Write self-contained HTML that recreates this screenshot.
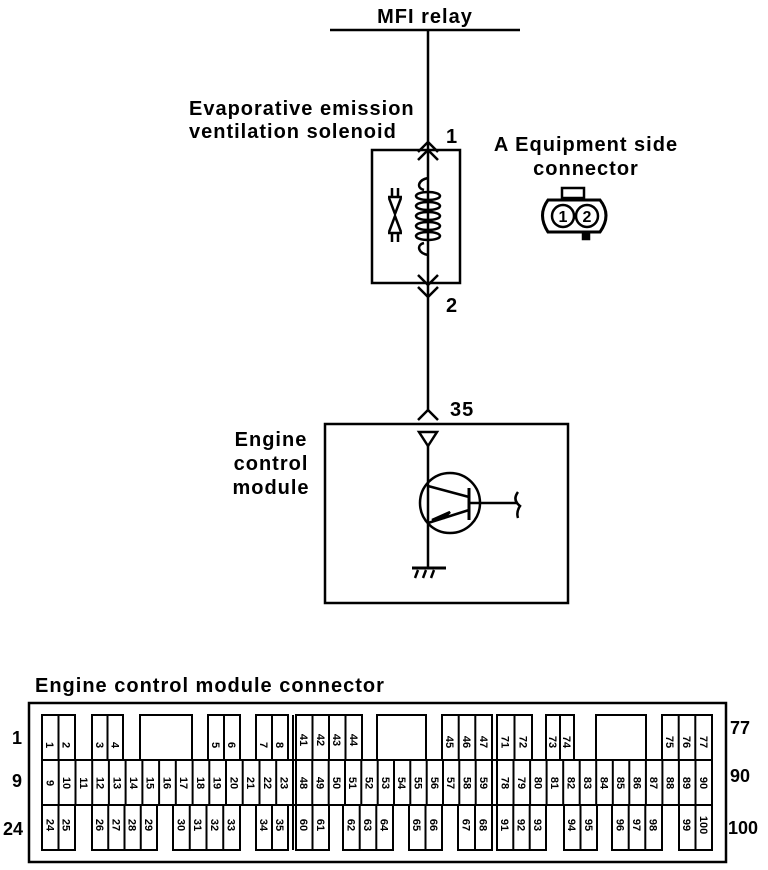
<!DOCTYPE html>
<html><head><meta charset="utf-8"><style>
html,body{margin:0;padding:0;background:#fff;}
svg{display:block;}
text{font-family:"Liberation Sans",sans-serif;fill:#000;}
.n{font-size:11px;font-weight:bold;}
.L{font-size:20px;font-weight:bold;letter-spacing:1px;}
</style></head><body>
<svg width="768" height="870" viewBox="0 0 768 870" xmlns="http://www.w3.org/2000/svg">
<g stroke="#000" stroke-width="2.5" fill="none">
<line x1="330" y1="30" x2="520" y2="30"/>
<line x1="428" y1="30" x2="428" y2="410"/>
<rect x="372" y="150" width="88" height="133"/>
<polyline points="418,152 428,142 438,152"/>
<polyline points="418,160 428,150 438,160"/>
<polyline points="418,275 428,285 438,275"/>
<polyline points="418,287 428,297 438,287"/>
<path d="M428,178 C418,180 416,188 424,190 M428,255 C418,253 416,245 424,243" />
<ellipse cx="428" cy="196" rx="12" ry="4"/>
<ellipse cx="428" cy="206" rx="12" ry="4"/>
<ellipse cx="428" cy="216" rx="12" ry="4"/>
<ellipse cx="428" cy="226" rx="12" ry="4"/>
<ellipse cx="428" cy="236" rx="12" ry="4"/>
<line x1="392" y1="188" x2="392" y2="196"/><line x1="398" y1="188" x2="398" y2="196"/>
<line x1="388" y1="197" x2="402" y2="197"/>
<polyline points="389,198 395,214 401,198"/>
<polyline points="389,232 395,216 401,232"/>
<line x1="388" y1="233" x2="402" y2="233"/>
<line x1="392" y1="234" x2="392" y2="242"/><line x1="398" y1="234" x2="398" y2="242"/>
<path d="M548,200 Q537,215 548,232 L600,232 Q612,215 600,200 Z" stroke-width="3"/>
<rect x="562" y="188" width="22" height="10"/>
<circle cx="563" cy="216" r="11"/><circle cx="587" cy="216" r="11"/>
<rect x="583" y="233" width="6" height="6" fill="#000"/>
<polyline points="418,420 428,410 438,420"/>
<rect x="325" y="424" width="243" height="179"/>
<polygon points="419,432 437,432 428,446"/>
<line x1="428" y1="446" x2="428" y2="568"/>
<circle cx="450" cy="503" r="30"/>
<line x1="469" y1="488" x2="469" y2="520" stroke-width="3"/>
<line x1="428" y1="486" x2="469" y2="497"/>
<line x1="428" y1="523" x2="469" y2="510"/>
<path d="M432,520 L450,512 L444,518 Z" fill="#000"/>
<line x1="469" y1="503" x2="518" y2="503"/>
<path d="M518,492 Q512,500 520,506 Q516,512 518,518"/>
<line x1="412" y1="568" x2="446" y2="568" stroke-width="3"/>
<line x1="418" y1="570" x2="415" y2="578"/><line x1="426" y1="570" x2="423" y2="578"/><line x1="434" y1="570" x2="431" y2="578"/>
<rect x="29" y="703" width="697" height="159"/>
</g>
<g stroke="#000" stroke-width="2" fill="none">
<rect x="42" y="715" width="33" height="45"/><line x1="58.5" y1="715" x2="58.5" y2="760"/>
<rect x="92" y="715" width="31" height="45"/><line x1="107.5" y1="715" x2="107.5" y2="760"/>
<rect x="140" y="715" width="52" height="45"/>
<rect x="208" y="715" width="32" height="45"/><line x1="224" y1="715" x2="224" y2="760"/>
<rect x="256" y="715" width="32" height="45"/><line x1="272" y1="715" x2="272" y2="760"/>
<rect x="296" y="715" width="66" height="45"/><line x1="312.5" y1="715" x2="312.5" y2="760"/><line x1="329" y1="715" x2="329" y2="760"/><line x1="345.5" y1="715" x2="345.5" y2="760"/>
<rect x="377" y="715" width="49" height="45"/>
<rect x="442" y="715" width="50" height="45"/><line x1="458.7" y1="715" x2="458.7" y2="760"/><line x1="475.3" y1="715" x2="475.3" y2="760"/>
<rect x="497" y="715" width="35" height="45"/><line x1="514.5" y1="715" x2="514.5" y2="760"/>
<rect x="546" y="715" width="28" height="45"/><line x1="560" y1="715" x2="560" y2="760"/>
<rect x="596" y="715" width="50" height="45"/>
<rect x="662" y="715" width="50" height="45"/><line x1="678.7" y1="715" x2="678.7" y2="760"/><line x1="695.3" y1="715" x2="695.3" y2="760"/>
<rect x="42" y="760" width="670" height="45"/>
<line x1="293" y1="715" x2="293" y2="850"/><line x1="296" y1="715" x2="296" y2="850"/>
<line x1="492" y1="715" x2="492" y2="850"/><line x1="497" y1="715" x2="497" y2="850"/>
<line x1="58.7" y1="760" x2="58.7" y2="805"/><line x1="75.5" y1="760" x2="75.5" y2="805"/><line x1="92.2" y1="760" x2="92.2" y2="805"/><line x1="108.9" y1="760" x2="108.9" y2="805"/><line x1="125.6" y1="760" x2="125.6" y2="805"/><line x1="142.4" y1="760" x2="142.4" y2="805"/><line x1="159.1" y1="760" x2="159.1" y2="805"/><line x1="175.8" y1="760" x2="175.8" y2="805"/><line x1="192.6" y1="760" x2="192.6" y2="805"/><line x1="209.3" y1="760" x2="209.3" y2="805"/><line x1="226" y1="760" x2="226" y2="805"/><line x1="242.7" y1="760" x2="242.7" y2="805"/><line x1="259.5" y1="760" x2="259.5" y2="805"/><line x1="276.2" y1="760" x2="276.2" y2="805"/>
<line x1="312.3" y1="760" x2="312.3" y2="805"/><line x1="328.7" y1="760" x2="328.7" y2="805"/><line x1="345" y1="760" x2="345" y2="805"/><line x1="361.3" y1="760" x2="361.3" y2="805"/><line x1="377.7" y1="760" x2="377.7" y2="805"/><line x1="394" y1="760" x2="394" y2="805"/><line x1="410.3" y1="760" x2="410.3" y2="805"/><line x1="426.7" y1="760" x2="426.7" y2="805"/><line x1="443" y1="760" x2="443" y2="805"/><line x1="459.3" y1="760" x2="459.3" y2="805"/><line x1="475.7" y1="760" x2="475.7" y2="805"/>
<line x1="513.5" y1="760" x2="513.5" y2="805"/><line x1="530.1" y1="760" x2="530.1" y2="805"/><line x1="546.6" y1="760" x2="546.6" y2="805"/><line x1="563.2" y1="760" x2="563.2" y2="805"/><line x1="579.7" y1="760" x2="579.7" y2="805"/><line x1="596.2" y1="760" x2="596.2" y2="805"/><line x1="612.8" y1="760" x2="612.8" y2="805"/><line x1="629.3" y1="760" x2="629.3" y2="805"/><line x1="645.9" y1="760" x2="645.9" y2="805"/><line x1="662.4" y1="760" x2="662.4" y2="805"/><line x1="678.9" y1="760" x2="678.9" y2="805"/><line x1="695.5" y1="760" x2="695.5" y2="805"/>
<rect x="42" y="805" width="33" height="45"/><line x1="58.5" y1="805" x2="58.5" y2="850"/>
<rect x="92" y="805" width="65" height="45"/><line x1="108.25" y1="805" x2="108.25" y2="850"/><line x1="124.5" y1="805" x2="124.5" y2="850"/><line x1="140.75" y1="805" x2="140.75" y2="850"/>
<rect x="173" y="805" width="67" height="45"/><line x1="189.75" y1="805" x2="189.75" y2="850"/><line x1="206.5" y1="805" x2="206.5" y2="850"/><line x1="223.25" y1="805" x2="223.25" y2="850"/>
<rect x="256" y="805" width="32" height="45"/><line x1="272" y1="805" x2="272" y2="850"/>
<rect x="296" y="805" width="33" height="45"/><line x1="312.5" y1="805" x2="312.5" y2="850"/>
<rect x="343" y="805" width="50" height="45"/><line x1="359.7" y1="805" x2="359.7" y2="850"/><line x1="376.3" y1="805" x2="376.3" y2="850"/>
<rect x="409" y="805" width="33" height="45"/><line x1="425.5" y1="805" x2="425.5" y2="850"/>
<rect x="458" y="805" width="34" height="45"/><line x1="475" y1="805" x2="475" y2="850"/>
<rect x="497" y="805" width="49" height="45"/><line x1="513.3" y1="805" x2="513.3" y2="850"/><line x1="529.7" y1="805" x2="529.7" y2="850"/>
<rect x="564" y="805" width="33" height="45"/><line x1="580.5" y1="805" x2="580.5" y2="850"/>
<rect x="612" y="805" width="50" height="45"/><line x1="628.7" y1="805" x2="628.7" y2="850"/><line x1="645.3" y1="805" x2="645.3" y2="850"/>
<rect x="679" y="805" width="33" height="45"/><line x1="695.5" y1="805" x2="695.5" y2="850"/>
</g>
<text class="L" x="425" y="23" text-anchor="middle">MFI relay</text>
<text class="L" x="189" y="115">Evaporative emission</text>
<text class="L" x="189" y="138">ventilation solenoid</text>
<text class="L" x="446" y="143">1</text>
<text class="L" x="446" y="312">2</text>
<text class="L" x="586" y="151" text-anchor="middle">A  Equipment side</text>
<text class="L" x="586" y="175" text-anchor="middle">connector</text>
<text x="563" y="222" font-size="16" font-weight="bold" text-anchor="middle">1</text>
<text x="587" y="222" font-size="16" font-weight="bold" text-anchor="middle">2</text>
<text class="L" x="450" y="416">35</text>
<text class="L" x="271" y="446" text-anchor="middle">Engine</text>
<text class="L" x="271" y="470" text-anchor="middle">control</text>
<text class="L" x="271" y="494" text-anchor="middle">module</text>
<text class="L" x="35" y="692">Engine control module connector</text>
<text x="12" y="744" font-size="18" font-weight="bold">1</text>
<text x="12" y="787" font-size="18" font-weight="bold">9</text>
<text x="3" y="835" font-size="18" font-weight="bold">24</text>
<text x="730" y="734" font-size="18" font-weight="bold">77</text>
<text x="730" y="782" font-size="18" font-weight="bold">90</text>
<text x="728" y="834" font-size="18" font-weight="bold">100</text>
<g class="n" text-anchor="middle">
<text transform="translate(50,745) rotate(90)" dy="4">1</text>
<text transform="translate(66.5,745) rotate(90)" dy="4">2</text>
<text transform="translate(100,745) rotate(90)" dy="4">3</text>
<text transform="translate(115.5,745) rotate(90)" dy="4">4</text>
<text transform="translate(216,745) rotate(90)" dy="4">5</text>
<text transform="translate(232,745) rotate(90)" dy="4">6</text>
<text transform="translate(264,745) rotate(90)" dy="4">7</text>
<text transform="translate(280,745) rotate(90)" dy="4">8</text>
<text transform="translate(304,740) rotate(90)" dy="4">41</text>
<text transform="translate(321,740) rotate(90)" dy="4">42</text>
<text transform="translate(337,740) rotate(90)" dy="4">43</text>
<text transform="translate(354,740) rotate(90)" dy="4">44</text>
<text transform="translate(450,742) rotate(90)" dy="4">45</text>
<text transform="translate(467,742) rotate(90)" dy="4">46</text>
<text transform="translate(484,742) rotate(90)" dy="4">47</text>
<text transform="translate(505.7,742) rotate(90)" dy="4">71</text>
<text transform="translate(523.3,742) rotate(90)" dy="4">72</text>
<text transform="translate(553,742) rotate(90)" dy="4">73</text>
<text transform="translate(567,742) rotate(90)" dy="4">74</text>
<text transform="translate(670,742) rotate(90)" dy="4">75</text>
<text transform="translate(687,742) rotate(90)" dy="4">76</text>
<text transform="translate(704,742) rotate(90)" dy="4">77</text>
<text transform="translate(50.4,783) rotate(90)" dy="4">9</text>
<text transform="translate(67.1,783) rotate(90)" dy="4">10</text>
<text transform="translate(83.8,783) rotate(90)" dy="4">11</text>
<text transform="translate(100.5,783) rotate(90)" dy="4">12</text>
<text transform="translate(117.3,783) rotate(90)" dy="4">13</text>
<text transform="translate(134,783) rotate(90)" dy="4">14</text>
<text transform="translate(150.7,783) rotate(90)" dy="4">15</text>
<text transform="translate(167.5,783) rotate(90)" dy="4">16</text>
<text transform="translate(184.2,783) rotate(90)" dy="4">17</text>
<text transform="translate(200.9,783) rotate(90)" dy="4">18</text>
<text transform="translate(217.7,783) rotate(90)" dy="4">19</text>
<text transform="translate(234.4,783) rotate(90)" dy="4">20</text>
<text transform="translate(251.1,783) rotate(90)" dy="4">21</text>
<text transform="translate(267.8,783) rotate(90)" dy="4">22</text>
<text transform="translate(284.6,783) rotate(90)" dy="4">23</text>
<text transform="translate(304.2,783) rotate(90)" dy="4">48</text>
<text transform="translate(320.5,783) rotate(90)" dy="4">49</text>
<text transform="translate(336.8,783) rotate(90)" dy="4">50</text>
<text transform="translate(353.2,783) rotate(90)" dy="4">51</text>
<text transform="translate(369.5,783) rotate(90)" dy="4">52</text>
<text transform="translate(385.8,783) rotate(90)" dy="4">53</text>
<text transform="translate(402.2,783) rotate(90)" dy="4">54</text>
<text transform="translate(418.5,783) rotate(90)" dy="4">55</text>
<text transform="translate(434.8,783) rotate(90)" dy="4">56</text>
<text transform="translate(451.2,783) rotate(90)" dy="4">57</text>
<text transform="translate(467.5,783) rotate(90)" dy="4">58</text>
<text transform="translate(483.8,783) rotate(90)" dy="4">59</text>
<text transform="translate(505.3,783) rotate(90)" dy="4">78</text>
<text transform="translate(521.8,783) rotate(90)" dy="4">79</text>
<text transform="translate(538.4,783) rotate(90)" dy="4">80</text>
<text transform="translate(554.9,783) rotate(90)" dy="4">81</text>
<text transform="translate(571.5,783) rotate(90)" dy="4">82</text>
<text transform="translate(588,783) rotate(90)" dy="4">83</text>
<text transform="translate(604.5,783) rotate(90)" dy="4">84</text>
<text transform="translate(621.1,783) rotate(90)" dy="4">85</text>
<text transform="translate(637.6,783) rotate(90)" dy="4">86</text>
<text transform="translate(654.2,783) rotate(90)" dy="4">87</text>
<text transform="translate(670.7,783) rotate(90)" dy="4">88</text>
<text transform="translate(687.2,783) rotate(90)" dy="4">89</text>
<text transform="translate(703.8,783) rotate(90)" dy="4">90</text>
<text transform="translate(50.4,825) rotate(90)" dy="4">24</text>
<text transform="translate(66.5,825) rotate(90)" dy="4">25</text>
<text transform="translate(100.1,825) rotate(90)" dy="4">26</text>
<text transform="translate(116.4,825) rotate(90)" dy="4">27</text>
<text transform="translate(132.6,825) rotate(90)" dy="4">28</text>
<text transform="translate(148.9,825) rotate(90)" dy="4">29</text>
<text transform="translate(181.4,825) rotate(90)" dy="4">30</text>
<text transform="translate(198.1,825) rotate(90)" dy="4">31</text>
<text transform="translate(214.9,825) rotate(90)" dy="4">32</text>
<text transform="translate(231.6,825) rotate(90)" dy="4">33</text>
<text transform="translate(264,825) rotate(90)" dy="4">34</text>
<text transform="translate(280,825) rotate(90)" dy="4">35</text>
<text transform="translate(304.2,825) rotate(90)" dy="4">60</text>
<text transform="translate(320.8,825) rotate(90)" dy="4">61</text>
<text transform="translate(351.3,825) rotate(90)" dy="4">62</text>
<text transform="translate(368,825) rotate(90)" dy="4">63</text>
<text transform="translate(384.7,825) rotate(90)" dy="4">64</text>
<text transform="translate(417.2,825) rotate(90)" dy="4">65</text>
<text transform="translate(433.8,825) rotate(90)" dy="4">66</text>
<text transform="translate(466.5,825) rotate(90)" dy="4">67</text>
<text transform="translate(483.5,825) rotate(90)" dy="4">68</text>
<text transform="translate(505.2,825) rotate(90)" dy="4">91</text>
<text transform="translate(521.5,825) rotate(90)" dy="4">92</text>
<text transform="translate(537.8,825) rotate(90)" dy="4">93</text>
<text transform="translate(572.2,825) rotate(90)" dy="4">94</text>
<text transform="translate(588.8,825) rotate(90)" dy="4">95</text>
<text transform="translate(620.3,825) rotate(90)" dy="4">96</text>
<text transform="translate(637,825) rotate(90)" dy="4">97</text>
<text transform="translate(653.7,825) rotate(90)" dy="4">98</text>
<text transform="translate(687.2,825) rotate(90)" dy="4">99</text>
<text transform="translate(703.8,825) rotate(90)" dy="4">100</text>
</g>
</svg>
</body></html>
